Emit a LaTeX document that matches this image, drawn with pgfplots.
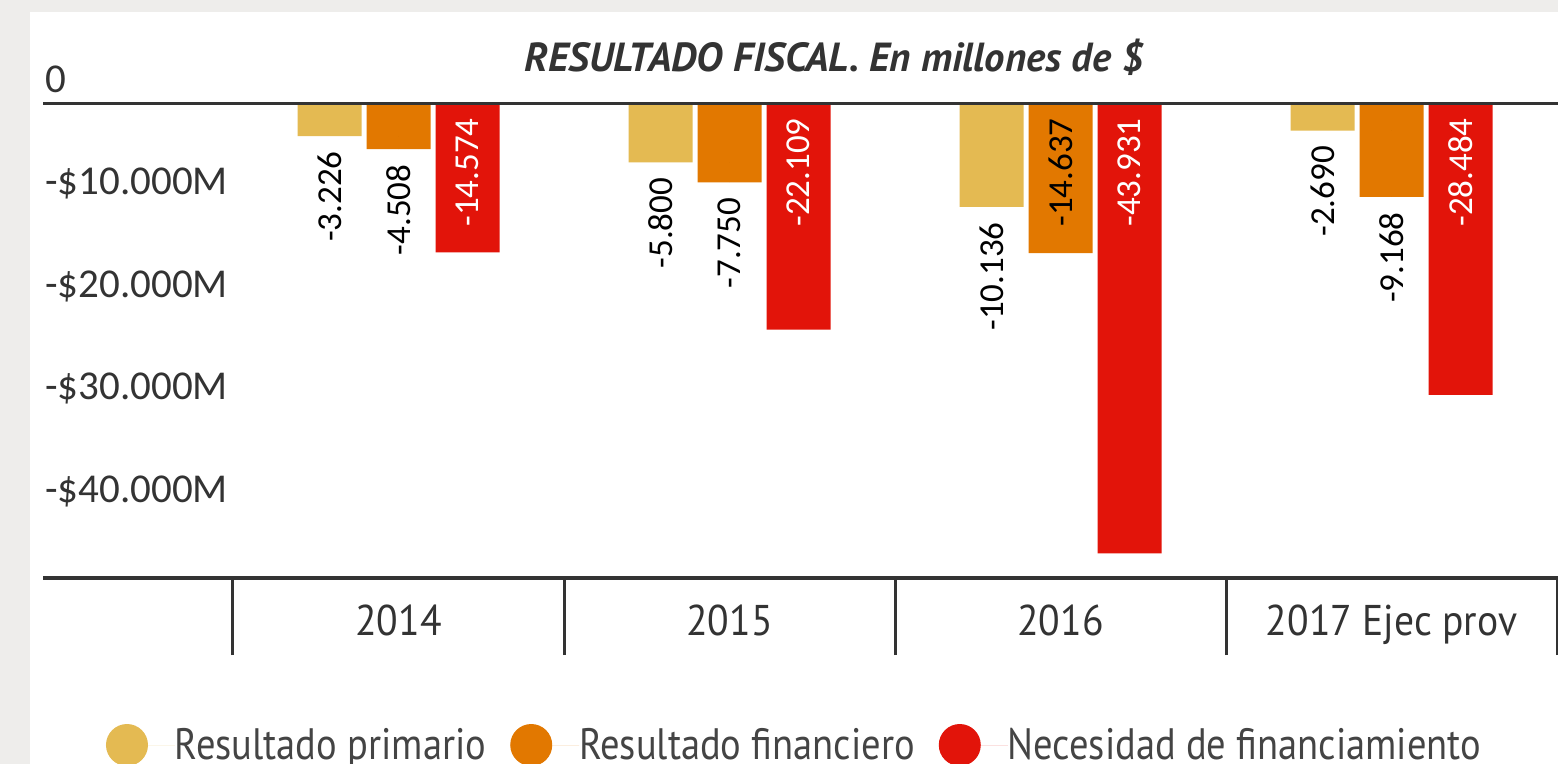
\documentclass[border=0pt]{standalone}
\usepackage{fontspec}
\setmainfont{PT Sans}
\newfontfamily\carl{Carlito}
\newfontfamily\narrow[FakeStretch=0.875]{PT Sans}
\newfontfamily\catfont[FakeStretch=0.92]{PT Sans}
\usepackage{pgfplots}
\pgfplotsset{compat=1.18}
\usepackage{pgfplotstable}
\definecolor{cyel}{HTML}{E4BA52}
\definecolor{corg}{HTML}{E27800}
\definecolor{cred}{HTML}{E2140A}
\definecolor{cdark}{HTML}{333333}
\definecolor{ctext}{HTML}{444444}
\definecolor{cbg}{HTML}{EEEDEB}

\pgfplotstableread{
x y lab in
0 -3226 -3.226 0
1 -5800 -5.800 0
2 -10136 -10.136 0
3 -2690 -2.690 0
}\primario
\pgfplotstableread{
x y lab in
0 -4508 -4.508 0
1 -7750 -7.750 0
2 -14637 -14.637 1
3 -9168 -9.168 0
}\financiero
\pgfplotstableread{
x y lab in
0 -14574 -14.574 1
1 -22109 -22.109 1
2 -43931 -43.931 1
3 -28484 -28.484 1
}\necesidad

\pgfplotsset{
  labplot/.style 2 args={forget plot, only marks, mark=*, mark size=0pt,
    mark options={draw=none, fill=none}, point meta=explicit symbolic,
    nodes near coords,
    nodes near coords style={font=\carl\fontsize{17.5bp}{20bp}\selectfont, text=#2,
      inner sep=0pt, xshift=#1, yshift=-7.5bp, rotate=90, anchor=east}},
  circleg/.style={legend image code/.code={\fill[#1] (10.5bp,0bp) circle (10.5bp); \path (0bp,0bp) -- (34.5bp,0bp);}}
}

\begin{document}
\begin{tikzpicture}
\useasboundingbox (0,0) rectangle (779bp,-382bp);
\fill[cbg] (0,0) rectangle (779bp,-382bp);
\fill[white] (15bp,-6bp) rectangle (779bp,-382bp);
\node[font=\bfseries\itshape\fontsize{20.3bp}{24bp}\selectfont, text=cdark] at (417bp,-28.5bp) {RESULTADO FISCAL. En millones de \$};
\begin{axis}[at={(21.5bp,-289bp)}, anchor=south west, scale only axis,
  width=757.5bp, height=237.5bp,
  xmin=-1.074, xmax=3.503, ymin=-46341, ymax=0,
  clip=false,
  axis x line*=bottom, axis y line*=left,
  x axis line style={line width=2bp, draw=cdark, -},
  y axis line style={draw=none},
  xtick={0,1,2,3}, xticklabels={2014,2015,2016,2017 Ejec prov},
  minor xtick={-0.5,0.5,1.5,2.5,3.5},
  major tick length=0pt, minor tick length=38.5bp, tick align=outside,
  minor tick style={line width=1.5bp, draw=cdark},
  major tick style={draw=none},
  xticklabel style={font=\catfont\fontsize{21.5bp}{25bp}\selectfont, text=cdark, anchor=base, yshift=-28.5bp},
  scaled y ticks=false,
  ytick={-40000,-30000,-20000,-10000,0},
  yticklabels={-\$40.000M,-\$30.000M,-\$20.000M,-\$10.000M,0},
  yticklabel style={font=\carl\fontsize{20.5bp}{24bp}\selectfont, text=cdark, anchor=base west, inner sep=0pt, xshift=1bp, yshift=5.5bp},
  legend columns=3,
  legend cell align=left,
  legend style={draw=none, fill=none, inner sep=0pt, outer sep=0pt,
    at={(0.04158,-0.3516)}, anchor=west,
    font=\narrow\fontsize{22bp}{26bp}\selectfont, text=ctext,
    nodes={inner sep=0pt},
    /tikz/every even column/.append style={column sep=12bp}},
]
\addplot[ybar, bar width=32bp, bar shift=-34.5bp, fill=cyel, draw=none, circleg=cyel] table[x=x,y=y] {\primario};
\addlegendentry{Resultado primario}
\addplot[ybar, bar width=32bp, bar shift=0bp, fill=corg, draw=none, circleg=corg] table[x=x,y=y] {\financiero};
\addlegendentry{Resultado financiero}
\addplot[ybar, bar width=32bp, bar shift=34.5bp, fill=cred, draw=none, circleg=cred] table[x=x,y=y] {\necesidad};
\addlegendentry{Necesidad de financiamiento}

\addplot[labplot={-34.5bp}{black}] table[x=x, y expr={(1-\thisrow{in})*\thisrow{y}}, meta=lab] {\primario};
\addplot[labplot={0bp}{black}] table[x=x, y expr={(1-\thisrow{in})*\thisrow{y}}, meta=lab] {\financiero};
\addplot[labplot={34.5bp}{white}] table[x=x, y expr={(1-\thisrow{in})*\thisrow{y}}, meta=lab] {\necesidad};

\draw[line width=1.5bp, cdark] (axis cs:-1.074,0) -- (axis cs:3.503,0);
\end{axis}
\end{tikzpicture}
\end{document}
